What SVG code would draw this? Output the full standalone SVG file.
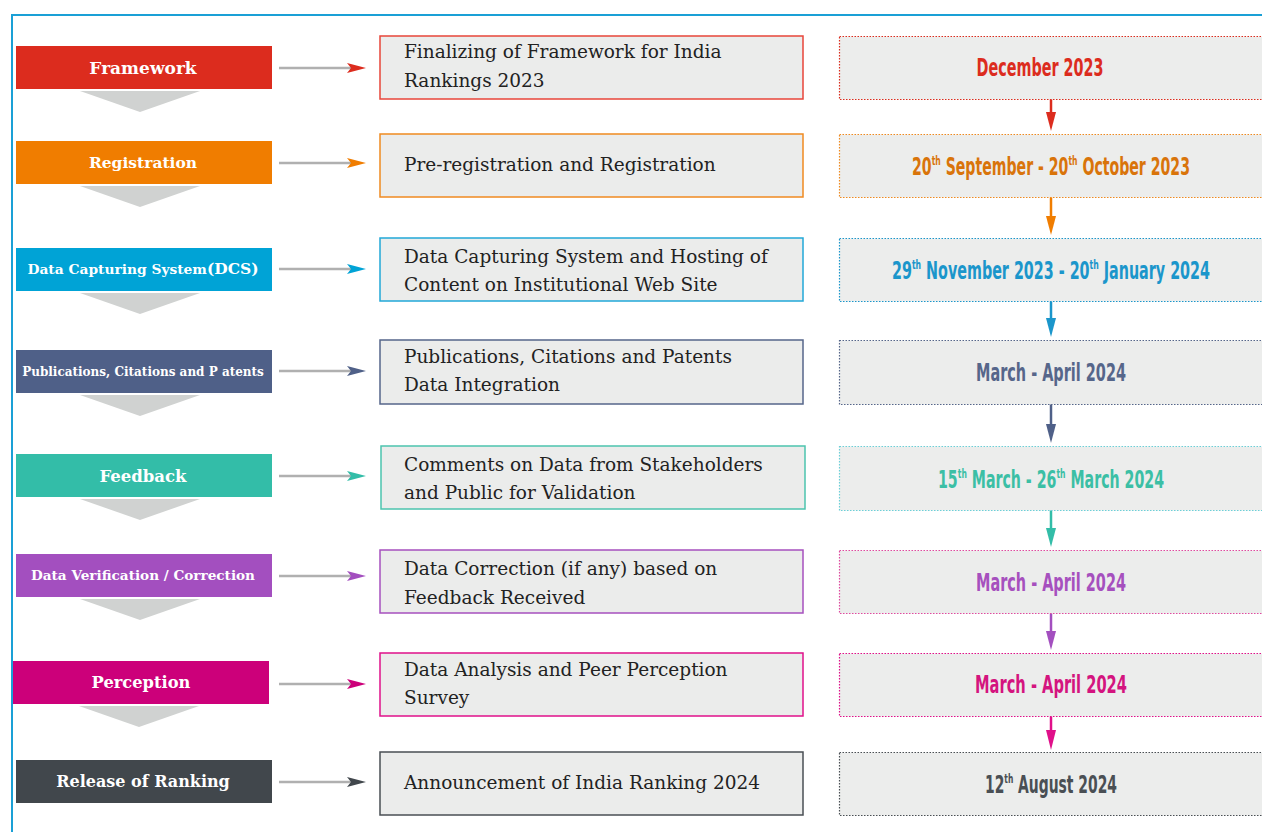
<svg xmlns="http://www.w3.org/2000/svg" width="1262" height="832" viewBox="0 0 1262 832">
<defs>
<style>
.frame{fill:none;stroke:#1aa0d6;stroke-width:2}
.lt{font-family:"DejaVu Serif","Liberation Serif",serif;font-weight:bold;fill:#fff;text-anchor:middle}
.chev{fill:#d0d2d1}
.mid{fill:#ebeceb;stroke-width:1.5}
.mt{font-family:"DejaVu Serif","Liberation Serif",serif;font-size:18.5px;fill:#222}
.rb{fill:#ecedec;stroke-width:1.2;stroke-dasharray:1.5 1.5}
.dt{font-family:"DejaVu Sans Condensed","DejaVu Sans","Liberation Sans",sans-serif;font-stretch:condensed;font-weight:bold;font-size:24px;text-anchor:middle}
.sup{font-size:13px}
.hl{stroke:#b0b0b0;stroke-width:2.5;fill:none}
.vl{stroke-width:2.5;fill:none}
</style>
</defs>
<rect width="1262" height="832" fill="#fff"/>
<path class="frame" d="M1262 15 H12 V832"/>

<g id="connectors">
<line class="hl" x1="279" y1="68" x2="352" y2="68"/><path d="M347 63 L366 68 L347 73 L351 68 Z" fill="#dc2c1e"/>
<line class="hl" x1="279" y1="163" x2="352" y2="163"/><path d="M347 158 L366 163 L347 168 L351 163 Z" fill="#f07d00"/>
<line class="hl" x1="279" y1="269" x2="352" y2="269"/><path d="M347 264 L366 269 L347 274 L351 269 Z" fill="#00a3d6"/>
<line class="hl" x1="279" y1="371" x2="352" y2="371"/><path d="M347 366 L366 371 L347 376 L351 371 Z" fill="#4f6088"/>
<line class="hl" x1="279" y1="476" x2="352" y2="476"/><path d="M347 471 L366 476 L347 481 L351 476 Z" fill="#33bda8"/>
<line class="hl" x1="279" y1="576" x2="352" y2="576"/><path d="M347 571 L366 576 L347 581 L351 576 Z" fill="#a34fbf"/>
<line class="hl" x1="279" y1="684" x2="352" y2="684"/><path d="M347 679 L366 684 L347 689 L351 684 Z" fill="#cc007a"/>
<line class="hl" x1="279" y1="782" x2="352" y2="782"/><path d="M347 777 L366 782 L347 787 L351 782 Z" fill="#41474c"/>

<line class="vl" stroke="#dc2c1e" x1="1051" y1="99" x2="1051" y2="118"/><path d="M1046 112 L1051 131 L1056 112 Z" fill="#dc2c1e"/>
<line class="vl" stroke="#f07d00" x1="1051" y1="197" x2="1051" y2="222"/><path d="M1046 216 L1051 235 L1056 216 Z" fill="#f07d00"/>
<line class="vl" stroke="#1b96cb" x1="1051" y1="301" x2="1051" y2="324"/><path d="M1046 318 L1051 337 L1056 318 Z" fill="#1b96cb"/>
<line class="vl" stroke="#4f6088" x1="1051" y1="404" x2="1051" y2="430"/><path d="M1046 424 L1051 443 L1056 424 Z" fill="#4f6088"/>
<line class="vl" stroke="#33bda8" x1="1051" y1="510" x2="1051" y2="534"/><path d="M1046 528 L1051 547 L1056 528 Z" fill="#33bda8"/>
<line class="vl" stroke="#a34fbf" x1="1051" y1="613" x2="1051" y2="637"/><path d="M1046 631 L1051 650 L1056 631 Z" fill="#a34fbf"/>
<line class="vl" stroke="#e0108a" x1="1051" y1="716" x2="1051" y2="736"/><path d="M1046 730 L1051 750 L1056 730 Z" fill="#e0108a"/>
</g>

<g id="n1">
<rect x="16" y="46" width="256" height="43" fill="#dc2c1e"/><path class="chev" d="M80 91 H200 L140 112 Z"/>
<text class="lt" x="143" y="74" font-size="17">Framework</text>
<rect class="mid" x="380" y="36" width="423" height="63" stroke="#e8453a"/>
<text class="mt" x="404" y="58">Finalizing of Framework for India</text><text class="mt" x="404" y="87">Rankings 2023</text>
<rect class="rb" x="839.5" y="36.5" width="430" height="63" stroke="#dc2c1e"/>
<text class="dt" x="1040" y="76" fill="#dc2c1e" textLength="127" lengthAdjust="spacingAndGlyphs">December 2023</text>
</g>

<g id="n2">
<rect x="16" y="141" width="256" height="43" fill="#f07d00"/><path class="chev" d="M80 186 H200 L140 207 Z"/>
<text class="lt" x="143" y="168" font-size="15.5">Registration</text>
<rect class="mid" x="380" y="134" width="423" height="63" stroke="#f08a20"/>
<text class="mt" x="404" y="171">Pre-registration and Registration</text>
<rect class="rb" x="839.5" y="134.5" width="430" height="63" stroke="#f08a20"/>
<text class="dt" x="1051" y="175" fill="#d9740a" textLength="278" lengthAdjust="spacingAndGlyphs">20<tspan class="sup" dy="-10">th</tspan><tspan dy="10"> September - 20</tspan><tspan class="sup" dy="-10">th</tspan><tspan dy="10"> October 2023</tspan></text>
</g>

<g id="n3">
<rect x="16" y="248" width="256" height="43" fill="#00a3d6"/><path class="chev" d="M80 293 H200 L140 314 Z"/>
<text class="lt" x="143" y="274" font-size="13.8">Data Capturing System<tspan font-size="15.5" font-weight="900">(DCS)</tspan></text>
<rect class="mid" x="380" y="238" width="423" height="63" stroke="#22a8d8"/>
<text class="mt" x="404" y="263">Data Capturing System and Hosting of</text><text class="mt" x="404" y="291">Content on Institutional Web Site</text>
<rect class="rb" x="839.5" y="238.5" width="430" height="63" stroke="#1b96cb"/>
<text class="dt" x="1051" y="279" fill="#1b96cb" textLength="318" lengthAdjust="spacingAndGlyphs">29<tspan class="sup" dy="-10">th</tspan><tspan dy="10"> November 2023 - 20</tspan><tspan class="sup" dy="-10">th</tspan><tspan dy="10"> January 2024</tspan></text>
</g>

<g id="n4">
<rect x="16" y="350" width="256" height="43" fill="#4f6088"/><path class="chev" d="M80 395 H200 L140 416 Z"/>
<text class="lt" x="143" y="376" font-size="12">Publications, Citations and P atents</text>
<rect class="mid" x="380" y="340" width="423" height="64" stroke="#56668a"/>
<text class="mt" x="404" y="363">Publications, Citations and Patents</text><text class="mt" x="404" y="391">Data Integration</text>
<rect class="rb" x="839.5" y="340.5" width="430" height="64" stroke="#56668a"/>
<text class="dt" x="1051" y="381" fill="#56668a" textLength="150" lengthAdjust="spacingAndGlyphs">March - April 2024</text>
</g>

<g id="n5">
<rect x="16" y="454" width="256" height="43" fill="#33bda8"/><path class="chev" d="M80 499 H200 L140 520 Z"/>
<text class="lt" x="143" y="482" font-size="16.5">Feedback</text>
<rect class="mid" x="381" y="446" width="424" height="63" stroke="#4cc4ae"/>
<text class="mt" x="404" y="471">Comments on Data from Stakeholders</text><text class="mt" x="404" y="499">and Public for Validation</text>
<rect class="rb" x="839.5" y="446.5" width="430" height="64" stroke="#6ccfd8"/>
<text class="dt" x="1051" y="488" fill="#3bbfa5" textLength="226" lengthAdjust="spacingAndGlyphs">15<tspan class="sup" dy="-10">th</tspan><tspan dy="10"> March - 26</tspan><tspan class="sup" dy="-10">th</tspan><tspan dy="10"> March 2024</tspan></text>
</g>

<g id="n6">
<rect x="16" y="554" width="256" height="43" fill="#a34fbf"/><path class="chev" d="M80 599 H200 L140 620 Z"/>
<text class="lt" x="143" y="580" font-size="13.6">Data Verification / Correction</text>
<rect class="mid" x="380" y="550" width="423" height="63" stroke="#a650be"/>
<text class="mt" x="404" y="575">Data Correction (if any) based on</text><text class="mt" x="404" y="604">Feedback Received</text>
<rect class="rb" x="839.5" y="550.5" width="430" height="63" stroke="#e04aa0"/>
<text class="dt" x="1051" y="591" fill="#a650be" textLength="150" lengthAdjust="spacingAndGlyphs">March - April 2024</text>
</g>

<g id="n7">
<rect x="13" y="661" width="256" height="43" fill="#cc007a"/><path class="chev" d="M79 706 H199 L139 727 Z"/>
<text class="lt" x="141" y="688" font-size="16.3">Perception</text>
<rect class="mid" x="380" y="653" width="423" height="63" stroke="#e0108a"/>
<text class="mt" x="404" y="676">Data Analysis and Peer Perception</text><text class="mt" x="404" y="704">Survey</text>
<rect class="rb" x="839.5" y="653.5" width="430" height="63" stroke="#e0108a"/>
<text class="dt" x="1051" y="693" fill="#d4147f" textLength="152" lengthAdjust="spacingAndGlyphs">March - April 2024</text>
</g>

<g id="n8">
<rect x="16" y="760" width="256" height="43" fill="#41474c"/>
<text class="lt" x="143" y="787" font-size="16">Release of Ranking</text>
<rect class="mid" x="380" y="752" width="423" height="63" stroke="#4a4f54"/>
<text class="mt" x="404" y="789">Announcement of India Ranking 2024</text>
<rect class="rb" x="839.5" y="752.5" width="430" height="63" stroke="#4a4f54"/>
<text class="dt" x="1051" y="793" fill="#4a4f54" textLength="132" lengthAdjust="spacingAndGlyphs">12<tspan class="sup" dy="-10">th</tspan><tspan dy="10"> August 2024</tspan></text>
</g>
</svg>
